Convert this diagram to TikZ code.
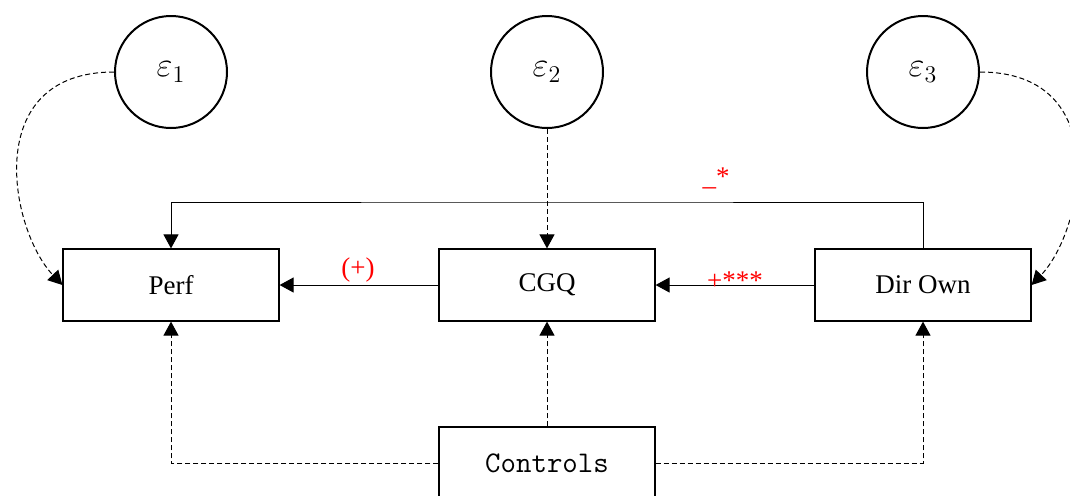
\documentclass[tikz,border=0pt]{standalone}
\usepackage{fontspec}
\setmainfont{Liberation Serif}
\usetikzlibrary{arrows.meta}

\tikzset{
  latent/.style={circle, draw, line width=1pt, minimum size=56pt, inner sep=0pt,
    font=\fontsize{17}{19}\selectfont},
  observed/.style={rectangle, draw, line width=0.6pt, minimum width=108pt,
    minimum height=36pt, font=\fontsize{13.5}{16}\selectfont},
  link/.style={line width=0.5pt, -{Triangle[width=7.5pt,length=7pt]}},
  effect/.style={dash pattern=on 2.5pt off 1.5pt},
  coef/.style={text=red, font=\fontsize{13.5}{16}\selectfont}
}

\begin{document}
\begin{tikzpicture}[x=0.5pt, y=0.5pt]
\useasboundingbox (0,0) rectangle (1070,495);
% error terms
\node[latent] (e1) at (171,423) {$\varepsilon_1$};
\node[latent] (e2) at (547,423) {$\varepsilon_2$};
\node[latent] (e3) at (923,423) {$\varepsilon_3$};
% observed variables
\node[observed] (perf) at (171,210) {Perf};
\node[observed] (cgq) at (547,210) {CGQ};
\node[observed] (dirown) at (923,210) {Dir Own};
\node[observed, font=\ttfamily\fontsize{15}{17}\selectfont] (controls) at (547,32) {Controls};
\coordinate (top) at (547,293);
% paths
\draw[link] (dirown.north) |- (top) -| (perf.north);
\draw[link] (cgq) -- (perf);
\draw[link] (dirown) -- (cgq);
\draw[link, effect] (e2) -- (cgq);
\draw[link, effect] (controls) -- (cgq);
\draw[link, effect] (controls.west) -| (perf.south);
\draw[link, effect] (controls.east) -| (dirown.south);
\draw[link, effect] (e1.west) .. controls (-20,423) and (10,265) .. (perf.west);
\draw[link, effect] (e3.east) .. controls (1114,423) and (1084,265) .. (dirown.east);
% coefficients
\node[coef] (c1) at (358,225) {(+)};
\node[coef] (c2) at (735,214) {+***};
\node[coef] (c3) at (716,317) {\_*};
\end{tikzpicture}
\end{document}
